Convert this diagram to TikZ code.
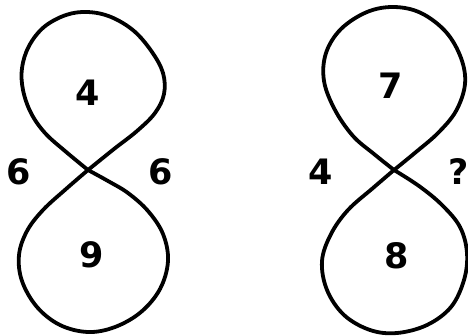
\documentclass[tikz,border=0pt]{standalone}
\usepackage{fontspec}
\newfontfamily\digitfont{DejaVu Sans}
\usepackage{tikz}

\begin{document}
\begin{tikzpicture}[
    x=1pt, y=-1pt,
    eight/.style={line width=3.8pt, line cap=round, line join=round},
    num/.style={font=\digitfont\bfseries\fontsize{35}{35}\selectfont, inner sep=0pt}
]
    \useasboundingbox (0,0) rectangle (468,335);

    % Left figure
    \coordinate (crossL) at (88,170);
    \draw [eight] plot[smooth, tension=0.6] coordinates {(88,170) (65,151) (45,133) (31,113)
        (23,90) (22,68) (29,46) (44,27) (66,15) (88,12) (111,17) (134,31) (152,52)
        (163,73) (164,94) (155,113) (137,131) (114,149) (88,170)};
    \draw [eight] plot[smooth, tension=0.6] coordinates {(88,170) (66,189) (43,210) (27,231)
        (19,255) (22,281) (37,307) (60,325) (88,332) (115,327) (141,312) (160,289)
        (168,261) (163,234) (148,211) (128,193) (108,181) (88,170)};
    \node (topL) [num] at (88,93) {4};
    \node (botL) [num] at (92,255) {9};
    \node (leftL) [num] at (19,172) {6};
    \node (rightL) [num] at (161,172) {6};

    % Right figure
    \coordinate (crossR) at (394,170);
    \draw [eight] plot[smooth, tension=0.6] coordinates {(394,170) (374,154) (353,136) (335,110)
        (324,81) (326,53) (341,29) (367,12) (394,7) (421,13) (446,32) (461,58)
        (465,84) (456,111) (438,133) (416,152) (394,170)};
    \draw [eight] plot[smooth, tension=0.6] coordinates {(394,170) (373,188) (348,210) (331,234)
        (322,261) (327,290) (344,315) (370,330) (397,333) (427,325) (451,307) (464,280)
        (467,253) (460,227) (442,205) (419,186) (394,170)};
    \node (topR) [num] at (391,86) {7};
    \node (botR) [num] at (397,256) {8};
    \node (leftR) [num] at (321,172) {4};
    \node (rightR) [num] at (459,172) {?};
\end{tikzpicture}
\end{document}
